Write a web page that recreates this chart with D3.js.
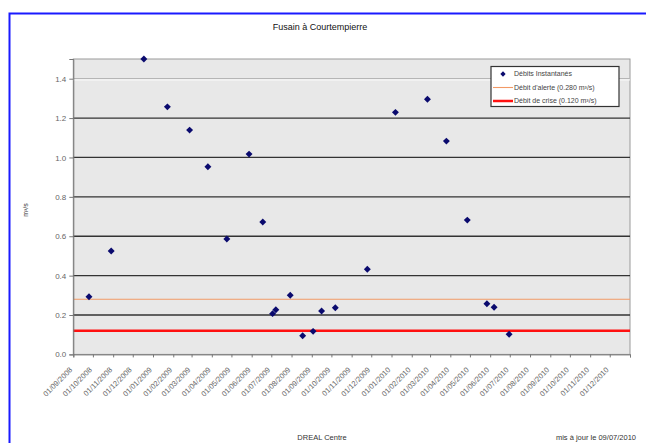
<!DOCTYPE html>
<html>
<head>
<meta charset="utf-8">
<script src="https://cdn.jsdelivr.net/npm/d3@7"></script>
<style>
  body { margin: 0; background: #fff; }
  text { font-family: "Liberation Sans", Arial, sans-serif; }
</style>
</head>
<body>
<div id="chart"></div>
<script>
// data
var dates = ["2008-09-25", "2008-10-29", "2008-12-18", "2009-01-23", "2009-02-26", "2009-03-26",
    "2009-04-24", "2009-05-28", "2009-06-18", "2009-07-03", "2009-07-08", "2009-07-30",
    "2009-08-18", "2009-09-03", "2009-09-16", "2009-10-07", "2009-11-25", "2010-01-07",
    "2010-02-25", "2010-03-26", "2010-04-27", "2010-05-27", "2010-06-07", "2010-06-30"];
var debits = [0.293, 0.525, 1.50, 1.257, 1.139, 0.953,
    0.586, 1.017, 0.672, 0.207, 0.227, 0.300,
    0.095, 0.117, 0.220, 0.237, 0.432, 1.229,
    1.296, 1.083, 0.682, 0.257, 0.239, 0.102];
var debitAlerte = 0.28;
var debitCrise = 0.12;
var yTicks = [0, 0.2, 0.4, 0.6, 0.8, 1.0, 1.2, 1.4];
var legendLabels = ["Débits Instantanés", "Débit d'alerte (0.280 m³/s)", "Débit de crise (0.120 m³/s)"];

var width = 646, height = 443;
var plotLeft = 73.3, plotRight = 630, plotTop = 59, plotBottom = 354.4;

var svg = d3.select("#chart").append("svg")
    .attr("width", width)
    .attr("height", height);

// blue frame
svg.append("rect")
    .attr("x", 9.5).attr("y", 13.5)
    .attr("width", 660).attr("height", 460)
    .attr("fill", "#fff")
    .attr("stroke", "#1a1aff")
    .attr("stroke-width", 2);

var parse = d3.utcParse("%Y-%m-%d");
var data = dates.map(function (d, i) { return { date: parse(d), value: debits[i] }; });

var x = d3.scaleUtc()
    .domain([new Date(Date.UTC(2008, 8, 1)), new Date(Date.UTC(2011, 0, 1))])
    .range([plotLeft, plotRight]);
var y = d3.scaleLinear().domain([0, 1.5]).range([plotBottom, plotTop]);

// plot area
svg.append("rect")
    .attr("x", plotLeft).attr("y", plotTop)
    .attr("width", plotRight - plotLeft).attr("height", plotBottom - plotTop)
    .attr("fill", "#e8e8e8")
    .attr("stroke", "#9a9a9a");

// gridlines
svg.selectAll(".grid")
    .data(yTicks.filter(function (d) { return d > 0; }))
    .enter().append("line")
    .attr("class", "grid")
    .attr("x1", plotLeft).attr("x2", plotRight)
    .attr("y1", function (d) { return y(d); })
    .attr("y2", function (d) { return y(d); })
    .attr("stroke", function (d) { return d > 1.3 ? "#b5b5b5" : "#333"; })
    .attr("stroke-width", 1.3);
svg.append("line")
    .attr("x1", plotLeft).attr("x2", plotRight)
    .attr("y1", y(1.4) + 1.2).attr("y2", y(1.4) + 1.2)
    .attr("stroke", "#fff").attr("stroke-width", 1);

// threshold lines
svg.append("line")
    .attr("x1", plotLeft).attr("x2", plotRight)
    .attr("y1", y(debitAlerte)).attr("y2", y(debitAlerte))
    .attr("stroke", "#f29a66").attr("stroke-width", 1.1);
svg.append("line")
    .attr("x1", plotLeft).attr("x2", plotRight)
    .attr("y1", y(debitCrise)).attr("y2", y(debitCrise))
    .attr("stroke", "#ff1010").attr("stroke-width", 2.5);

// y axis
var yAxis = svg.append("g")
    .attr("transform", "translate(" + plotLeft + ",0)")
    .call(d3.axisLeft(y).tickValues(yTicks).tickSize(4).tickFormat(d3.format(".1f")));
yAxis.select(".domain").attr("stroke", "#777");
yAxis.selectAll(".tick line").attr("stroke", "#777");
yAxis.selectAll("text")
    .attr("fill", "#666").attr("font-size", 8).attr("x", -7);

// x axis
var months = d3.utcMonth.range(x.domain()[0], x.domain()[1]);
months.push(x.domain()[1]);
var fmt = d3.utcFormat("%d/%m/%Y");
var xAxis = svg.append("g")
    .attr("transform", "translate(0," + plotBottom + ")")
    .call(d3.axisBottom(x).tickValues(months).tickSize(3).tickFormat(function (d, i) {
        return i < months.length - 1 ? fmt(d) : "";
    }));
xAxis.select(".domain").attr("stroke", "#777");
xAxis.selectAll(".tick line").attr("stroke", "#777");
xAxis.selectAll("text")
    .attr("fill", "#666").attr("font-size", 7.5)
    .attr("text-anchor", "end")
    .attr("x", 0).attr("y", 0).attr("dy", 0)
    .attr("transform", "translate(-1,16) rotate(-45)");

// markers
var marker = d3.symbol().type(d3.symbolSquare).size(24);
svg.selectAll(".pt")
    .data(data)
    .enter().append("path")
    .attr("class", "pt")
    .attr("d", marker)
    .attr("fill", "#0a0a6e")
    .attr("transform", function (d) {
        return "translate(" + x(d.date) + "," + y(d.value) + ") rotate(45)";
    });

// title and labels
svg.append("text")
    .attr("x", 320).attr("y", 30)
    .attr("text-anchor", "middle")
    .attr("font-size", 9).attr("fill", "#111")
    .text("Fusain à Courtempierre");

svg.append("text")
    .attr("transform", "translate(28,210) rotate(-90)")
    .attr("text-anchor", "middle")
    .attr("font-size", 7).attr("fill", "#333")
    .text("m³/s");

svg.append("text")
    .attr("x", 322).attr("y", 440)
    .attr("text-anchor", "middle")
    .attr("font-size", 7.5).attr("fill", "#333")
    .text("DREAL Centre");

svg.append("text")
    .attr("x", 636).attr("y", 440)
    .attr("text-anchor", "end")
    .attr("font-size", 7.5).attr("fill", "#333")
    .text("mis à jour le 09/07/2010");

// legend
var lg = svg.append("g").attr("transform", "translate(491,66.5)");
lg.append("rect")
    .attr("width", 128).attr("height", 40)
    .attr("fill", "#fff").attr("stroke", "#333").attr("stroke-width", 1.2);
var rows = lg.selectAll(".row")
    .data(legendLabels)
    .enter().append("g")
    .attr("transform", function (d, i) { return "translate(0," + (7.5 + i * 13.5) + ")"; });
rows.append("text")
    .attr("x", 23).attr("y", 0).attr("dy", "0.35em")
    .attr("font-size", 7).attr("fill", "#444")
    .text(function (d) { return d; });
rows.filter(function (d, i) { return i === 0; }).append("path")
    .attr("d", d3.symbol().type(d3.symbolSquare).size(14))
    .attr("transform", "translate(12,0) rotate(45)")
    .attr("fill", "#0a0a6e");
rows.filter(function (d, i) { return i === 1; }).append("line")
    .attr("x1", 2).attr("x2", 22)
    .attr("stroke", "#f29a66").attr("stroke-width", 1.1);
rows.filter(function (d, i) { return i === 2; }).append("line")
    .attr("x1", 2).attr("x2", 22)
    .attr("stroke", "#ff1010").attr("stroke-width", 2.5);
</script>
</body>
</html>
